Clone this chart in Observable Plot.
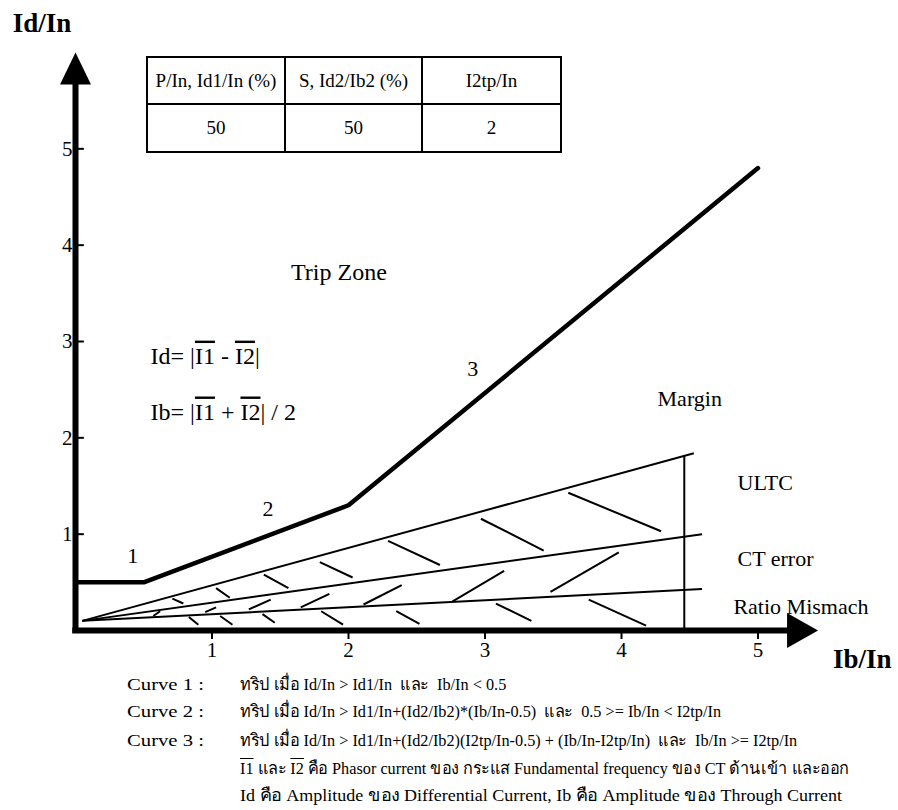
<!DOCTYPE html>
<html>
<head>
<meta charset="utf-8">
<script src="https://cdn.jsdelivr.net/npm/d3@7"></script>
<script src="https://cdn.jsdelivr.net/npm/@observablehq/plot@0.6"></script>
<style>
  body { margin: 0; background: #fff; }
  #wrap { position: relative; width: 898px; height: 810px; font-family: "Liberation Serif", "Noto Sans", serif; color: #000; overflow: hidden; }
  #chart { position: absolute; left: 0; top: 0; }
  table.params { position: absolute; left: 146px; top: 56px; border-collapse: collapse; font-size: 19px; font-family: "Liberation Serif", serif; }
  table.params td { border: 2px solid #000; text-align: center; padding: 0; }
  .cap { position: absolute; white-space: nowrap; line-height: 20px; transform-origin: 0 50%; }
  .ol { text-decoration: overline; }
</style>
</head>
<body>
<div id="wrap"></div>
<script>
// ---------- data ----------
const xTicks = [1, 2, 3, 4, 5];
const yTicks = [1, 2, 3, 4, 5];

// trip characteristic (curves 1-2-3)
const tripX = [0, 0.5, 2, 5.0];
const tripY = [0.5, 0.5, 1.3, 4.8];

// error bands from origin: ULTC, CT error, Ratio Mismach
const bandNames = ["ULTC", "CT error", "Ratio Mismach"];
const bandStart = [0.05, 0.1];
const bandEndX = [4.53, 4.59, 4.59];
const bandEndY = [1.84, 1.0, 0.43];

// margin vertical line
const marginLineX = 4.46;
const marginLineTop = 1.81;

// hatch strokes [x1, y1, x2, y2]
const hatchULTC = [
  [3.61, 1.43, 4.29, 1.03], [2.97, 1.16, 3.43, 0.83], [2.29, 0.93, 2.67, 0.68],
  [1.79, 0.71, 2.03, 0.55], [1.38, 0.58, 1.56, 0.44], [1.03, 0.44, 1.13, 0.34],
  [0.71, 0.33, 0.79, 0.28]
];
const hatchCT = [
  [3.48, 0.40, 3.98, 0.81], [2.76, 0.30, 3.14, 0.62], [2.11, 0.27, 2.39, 0.47],
  [1.65, 0.24, 1.86, 0.38], [1.27, 0.22, 1.43, 0.32], [0.95, 0.19, 1.03, 0.24],
  [0.57, 0.15, 0.62, 0.20]
];
const hatchRatio = [
  [3.76, 0.32, 4.18, 0.05], [3.08, 0.28, 3.34, 0.10], [2.35, 0.20, 2.52, 0.07],
  [1.80, 0.20, 1.96, 0.06], [1.37, 0.17, 1.46, 0.08], [1.06, 0.15, 1.15, 0.06],
  [0.83, 0.14, 0.90, 0.06]
];

// annotations
const noteTexts = ["Trip Zone", "Id= |I1 - I2|", "Ib= |I1 + I2| / 2", "1", "2", "3", "Margin", "ULTC", "CT error", "Ratio Mismach"];
const noteX = [1.93, 0.55, 0.55, 0.42, 1.41, 2.91, 4.50, 4.85, 4.85, 4.82];
const noteY = [3.72, 2.85, 2.27, 0.77, 1.26, 2.72, 2.40, 1.53, 0.74, 0.24];
const noteAnchor = ["middle", "start", "start", "middle", "middle", "middle", "middle", "start", "start", "start"];

const yTitle = "Id/In";
const xTitle = "Ib/In";

// parameter table
const tableHeaders = ["P/In, Id1/In (%)", "S, Id2/Ib2 (%)", "I2tp/In"];
const tableValues = ["50", "50", "2"];

// notes below
const curveLabels = ["Curve 1 :", "Curve 2 :", "Curve 3 :"];
const curveRules = [
  "ทริป เมื่อ Id/In > Id1/In&nbsp; และ&nbsp; Ib/In < 0.5",
  "ทริป เมื่อ Id/In > Id1/In+(Id2/Ib2)*(Ib/In-0.5)&nbsp; และ&nbsp; 0.5 >= Ib/In < I2tp/In",
  "ทริป เมื่อ Id/In > Id1/In+(Id2/Ib2)(I2tp/In-0.5) + (Ib/In-I2tp/In)&nbsp; และ&nbsp; Ib/In >= I2tp/In"
];
const noteLines = [
  "<span class='ol'>I1</span> และ <span class='ol'>I2</span> คือ Phasor current ของ กระแส Fundamental frequency ของ CT ด้านเข้า และออก",
  "Id คือ Amplitude ของ Differential Current, Ib คือ Amplitude ของ Through Current"
];

// ---------- build ----------
const fan = bandNames.map((name, i) => ({name, x1: bandStart[0], y1: bandStart[1], x2: bandEndX[i], y2: bandEndY[i]}));
const trip = tripX.map((x, i) => ({x, y: tripY[i]}));
const hatch = [...hatchULTC, ...hatchCT, ...hatchRatio].map(([x1, y1, x2, y2]) => ({x1, y1, x2, y2}));
const notes = noteTexts.map((t, i) => ({t, x: noteX[i], y: noteY[i], a: noteAnchor[i]}));

const arrowUp = {draw(ctx) { ctx.moveTo(0, 0); ctx.lineTo(-15.5, 32); ctx.lineTo(15.5, 32); ctx.closePath(); }};
const arrowRight = {draw(ctx) { ctx.moveTo(0, 0); ctx.lineTo(-31, -17.5); ctx.lineTo(-31, 17.5); ctx.closePath(); }};

const chart = Plot.plot({
  width: 898,
  height: 680,
  marginLeft: 75,
  marginRight: 4,
  marginTop: 52,
  marginBottom: 50,
  x: {domain: [0, 6], axis: null},
  y: {domain: [0, 6], axis: null},
  style: {fontFamily: "Liberation Serif, serif", color: "#000", background: "#fff", overflow: "visible"},
  marks: [
    Plot.link(fan, {x1: "x1", y1: "y1", x2: "x2", y2: "y2", stroke: "#000", strokeWidth: 2}),
    Plot.ruleX([marginLineX], {y1: 0, y2: marginLineTop, stroke: "#000", strokeWidth: 2}),
    Plot.link(hatch, {x1: "x1", y1: "y1", x2: "x2", y2: "y2", stroke: "#000", strokeWidth: 2}),
    Plot.line(trip, {x: "x", y: "y", stroke: "#000", strokeWidth: 4.5, strokeLinejoin: "miter"}),
    // axes
    Plot.ruleX([0], {y1: -0.03, y2: 5.7, stroke: "#000", strokeWidth: 6}),
    Plot.ruleY([0], {x1: -0.02, x2: 5.25, stroke: "#000", strokeWidth: 6}),
    Plot.dot([{x: 0, y: 6}], {x: "x", y: "y", symbol: arrowUp, fill: "#000", stroke: null, r: 10}),
    Plot.dot([{x: 5.44, y: 0}], {x: "x", y: "y", symbol: arrowRight, fill: "#000", stroke: null, r: 10}),
    Plot.ruleY(yTicks, {x1: 0, x2: 0.065, stroke: "#000", strokeWidth: 2}),
    Plot.axisX(xTicks, {tickSize: 9, tickPadding: 3, fontSize: 21, strokeWidth: 2, label: null, tickFormat: d => String(d)}),
    Plot.axisY(yTicks, {tickSize: 0, tickPadding: 3, fontSize: 21, label: null, tickFormat: d => String(d)}),
    // annotations
    Plot.text(notes.filter(d => d.a === "middle"), {x: "x", y: "y", text: "t", textAnchor: "middle", fontSize: 22, fill: "#000"}),
    Plot.text(notes.filter(d => d.a === "start"), {x: "x", y: "y", text: "t", textAnchor: "start", fontSize: 22, fill: "#000"}),
    Plot.text([yTitle], {x: -0.46, y: 6.3, text: d => d, textAnchor: "start", fontSize: 27, fontWeight: "bold", fill: "#000"}),
    Plot.text([xTitle], {x: 5.55, y: -0.3, text: d => d, textAnchor: "start", fontSize: 27, fontWeight: "bold", fill: "#000"})
  ]
});

// overline phasors in the formulas
chart.querySelectorAll("text").forEach(t => {
  if (/^I[db]=/.test(t.textContent)) {
    t.setAttribute("font-size", 24);
    t.innerHTML = t.textContent.replace(/I([12])/g, '<tspan text-decoration="overline">I$1</tspan>');
  }
  if (t.textContent === "Trip Zone") t.setAttribute("font-size", 24);
});

const wrap = document.getElementById("wrap");
chart.id = "chart";
wrap.appendChild(chart);

// table
const table = document.createElement("table");
table.className = "params";
const widths = [136, 135, 137];
const r1 = table.insertRow(), r2 = table.insertRow();
tableHeaders.forEach((h, i) => { const c = r1.insertCell(); c.textContent = h; c.style.width = widths[i] + "px"; c.style.height = "45px"; });
tableValues.forEach((v, i) => { const c = r2.insertCell(); c.textContent = v; c.style.height = "46px"; });
wrap.appendChild(table);

// notes (common horizontal condensation)
function addLine(html, left, centerY, size) {
  const d = document.createElement("div");
  d.className = "cap";
  d.innerHTML = html;
  d.style.left = left + "px";
  d.style.top = (centerY - 10) + "px";
  d.style.fontSize = size + "px";
  wrap.appendChild(d);
  return d;
}
const capY = [685, 712, 741];
const labelDivs = curveLabels.map((l, i) => addLine(l, 127, capY[i], 17));
const ruleDivs = curveRules.map((r, i) => addLine(r, 240, capY[i], 17));
const n4 = addLine(noteLines[0], 240, 769, 17);
const n5 = addLine(noteLines[1], 240, 796, 17);
const k = 609 / n4.getBoundingClientRect().width;
[...ruleDivs, n4].forEach(d => d.style.transform = `scaleX(${k})`);
n5.style.transform = `scaleX(${602 / n5.getBoundingClientRect().width})`;
labelDivs.forEach(d => d.style.transform = `scaleX(${77 / d.getBoundingClientRect().width})`);
</script>
</body>
</html>
